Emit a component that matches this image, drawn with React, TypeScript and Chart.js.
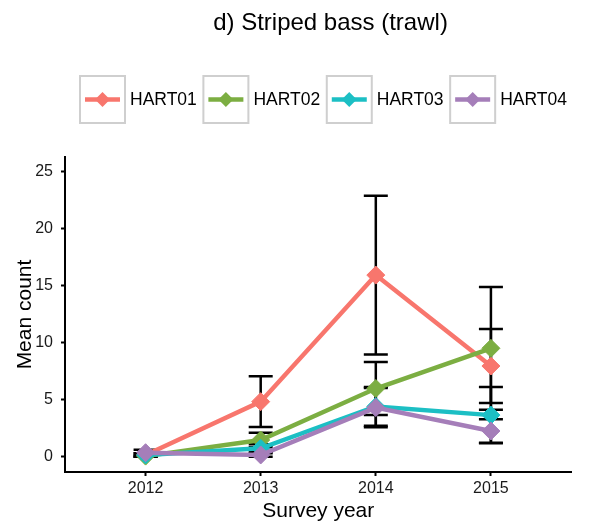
import React, { useEffect, useRef } from 'react';
import { Chart, registerables } from 'chart.js';
Chart.register(...registerables);

const TITLE = 'd) Striped bass (trawl)';
const X_TITLE = 'Survey year';
const Y_TITLE = 'Mean count';

const years = [2012, 2013, 2014, 2015];
const yTicks = [0, 5, 10, 15, 20, 25];

const seriesNames = ['HART01', 'HART02', 'HART03', 'HART04'];
const seriesColors = ['#F8766D', '#7CAE42', '#1CBFC4', '#A57EB9'];

const hart01Mean = [0.15, 4.82, 15.9, 7.94];
const hart01SE = [0.15, 2.22, 6.95, 3.24];
const hart02Mean = [0.05, 1.46, 5.97, 9.49];
const hart02SE = [0.05, 0.64, 2.32, 5.37];
const hart03Mean = [0.15, 0.73, 4.4, 3.64];
const hart03SE = [0.15, 0.35, 1.7, 2.46];
const hart04Mean = [0.35, 0.15, 4.3, 2.25];
const hart04SE = [0.25, 0.15, 1.72, 1.02];

const means = [hart01Mean, hart02Mean, hart03Mean, hart04Mean];
const ses = [hart01SE, hart02SE, hart03SE, hart04SE];

const FONT = "'Liberation Sans', Arial, Helvetica, sans-serif";

const errorBarPlugin = {
  id: 'errorBars',
  beforeDatasetsDraw(chart: any) {
    const ctx = chart.ctx;
    const xs = chart.scales.x;
    const ys = chart.scales.y;
    ctx.save();
    ctx.strokeStyle = '#000';
    ctx.lineWidth = 2.5;
    ctx.lineCap = 'butt';
    means.forEach((m, s) => {
      m.forEach((v, i) => {
        const px = xs.getPixelForValue(years[i]);
        const top = ys.getPixelForValue(v + ses[s][i]);
        const bot = ys.getPixelForValue(v - ses[s][i]);
        ctx.beginPath();
        ctx.moveTo(px, top);
        ctx.lineTo(px, bot);
        ctx.moveTo(px - 12, top);
        ctx.lineTo(px + 12, top);
        ctx.moveTo(px - 12, bot);
        ctx.lineTo(px + 12, bot);
        ctx.stroke();
      });
    });
    ctx.restore();
  },
};

const diamond = (ctx: any, x: number, y: number, r: number) => {
  ctx.beginPath();
  ctx.moveTo(x - r, y);
  ctx.lineTo(x, y - r);
  ctx.lineTo(x + r, y);
  ctx.lineTo(x, y + r);
  ctx.closePath();
  ctx.fill();
};

const overlayPlugin = {
  id: 'overlay',
  afterDraw(chart: any) {
    const ctx = chart.ctx;
    const area = chart.chartArea;
    ctx.save();
    // title
    ctx.fillStyle = '#000';
    ctx.font = `24px ${FONT}`;
    ctx.textAlign = 'center';
    ctx.textBaseline = 'alphabetic';
    ctx.fillText(TITLE, 330.5, 30);

    // legend
    ctx.font = `17.5px ${FONT}`;
    let x = 80;
    const boxTop = 76;
    const boxW = 45;
    const boxH = 47;
    const cy = boxTop + boxH / 2;
    seriesNames.forEach((name, i) => {
      ctx.fillStyle = '#fff';
      ctx.fillRect(x, boxTop, boxW, boxH);
      ctx.strokeStyle = '#cfcfcf';
      ctx.lineWidth = 2;
      ctx.strokeRect(x, boxTop, boxW, boxH);
      ctx.strokeStyle = seriesColors[i];
      ctx.lineWidth = 4.5;
      ctx.beginPath();
      ctx.moveTo(x + 5, cy);
      ctx.lineTo(x + boxW - 5, cy);
      ctx.stroke();
      ctx.fillStyle = seriesColors[i];
      diamond(ctx, x + boxW / 2, cy, 7.5);
      ctx.fillStyle = '#000';
      ctx.textAlign = 'left';
      ctx.textBaseline = 'middle';
      ctx.fillText(name, x + boxW + 5, cy + 1);
      const w = ctx.measureText(name).width;
      x += boxW + 5 + w + 6.6;
    });

    // axis titles
    ctx.fillStyle = '#000';
    ctx.font = `21px ${FONT}`;
    ctx.textAlign = 'center';
    ctx.textBaseline = 'alphabetic';
    ctx.fillText(X_TITLE, (area.left + area.right) / 2, 517);
    ctx.translate(31, (area.top + area.bottom) / 2);
    ctx.rotate(-Math.PI / 2);
    ctx.fillText(Y_TITLE, 0, 0);
    ctx.restore();
  },
};

export default function App() {
  const ref = useRef<HTMLCanvasElement>(null);
  useEffect(() => {
    document.body.style.margin = '0';
    const datasets = seriesNames.map((name, s) => ({
      label: name,
      data: years.map((yr, i) => ({ x: yr, y: means[s][i] })),
      borderColor: seriesColors[s],
      backgroundColor: seriesColors[s],
      borderWidth: 4.5,
      pointStyle: 'rectRot',
      pointRadius: 9,
      pointBorderWidth: 1,
      pointBorderColor: seriesColors[s],
      pointBackgroundColor: seriesColors[s],
      tension: 0,
      order: seriesNames.length - 1 - s,
    }));
    const chart = new Chart(ref.current as HTMLCanvasElement, {
      type: 'line',
      data: { datasets } as any,
      options: {
        animation: false,
        responsive: false,
        devicePixelRatio: 1,
        layout: { padding: { top: 157, left: 0, right: 33.5, bottom: 0 } },
        plugins: {
          legend: { display: false },
          tooltip: { enabled: false },
          title: { display: false },
        },
        scales: {
          x: {
            type: 'linear',
            min: 2011.3,
            max: 2015.7,
            afterBuildTicks: (s: any) => {
              s.ticks = years.map((v) => ({ value: v }));
            },
            afterFit: (s: any) => {
              s.height = 51;
            },
            grid: {
              display: true,
              drawOnChartArea: false,
              drawTicks: true,
              tickLength: 4,
              tickColor: '#000',
              tickWidth: 2,
            },
            border: { display: true, color: '#000', width: 2 },
            ticks: {
              padding: 3,
              color: '#1a1a1a',
              font: { family: FONT, size: 16 },
              maxRotation: 0,
              callback: (v: any) => String(v),
            },
          },
          y: {
            type: 'linear',
            min: -1.34,
            max: 26.24,
            afterBuildTicks: (s: any) => {
              s.ticks = yTicks.map((v) => ({ value: v }));
            },
            afterFit: (s: any) => {
              s.width = 65;
            },
            grid: {
              display: true,
              drawOnChartArea: false,
              drawTicks: true,
              tickLength: 4,
              tickColor: '#000',
              tickWidth: 2,
            },
            border: { display: true, color: '#000', width: 2 },
            ticks: {
              padding: 8,
              color: '#1a1a1a',
              font: { family: FONT, size: 16 },
              callback: (v: any) => String(v),
            },
          },
        },
      },
      plugins: [errorBarPlugin, overlayPlugin],
    } as any);
    return () => chart.destroy();
  }, []);
  return (
    <div style={{ width: 605, height: 523 }}>
      <canvas ref={ref} width={605} height={523} style={{ display: 'block' }} />
    </div>
  );
}
